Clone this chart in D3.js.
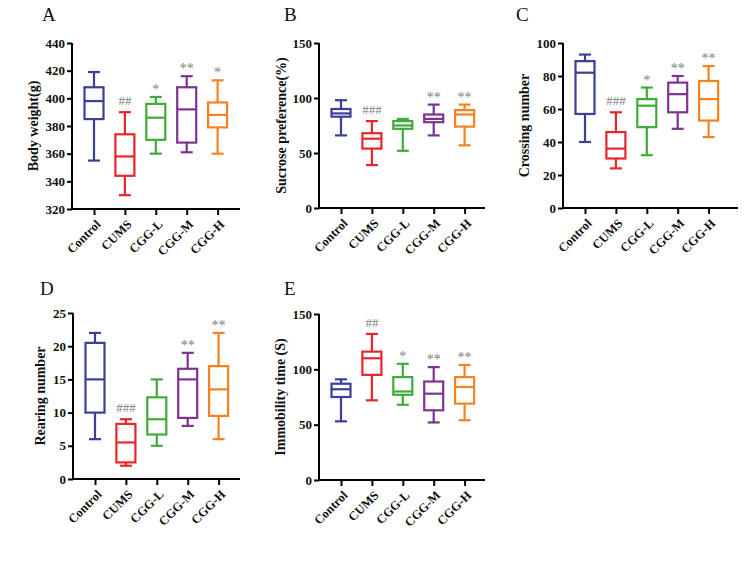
<!DOCTYPE html>
<html>
<head>
<meta charset="utf-8">
<script src="https://cdn.jsdelivr.net/npm/d3@7"></script>
<style>
  body { margin: 0; background: #fff; }
  svg text { font-family: "Liberation Serif", "Times New Roman", serif; }
</style>
</head>
<body>
<svg id="chart" width="752" height="574"></svg>
<script>
// groups and colours
const groups = ["Control", "CUMS", "CGG-L", "CGG-M", "CGG-H"];
const colors = ["#3b3f98", "#e8262b", "#3fab3a", "#7d3391", "#f6821f"];

// box stats per panel: [whiskerLow, q1, median, q3, whiskerHigh]
const bodyWeight = [
  [355, 385, 398, 408, 419],
  [330, 344, 358, 374, 390],
  [360, 370, 386, 396, 401],
  [361, 368, 392, 408, 416],
  [360, 379, 388, 397, 413]
];
const sucrose = [
  [66, 83, 86, 90, 98],
  [39, 54, 63, 68, 79],
  [52, 72, 75, 79, 81],
  [66, 78, 81, 85, 94],
  [57, 74, 85, 89, 94]
];
const crossing = [
  [40, 57, 82, 89, 93],
  [24, 30, 36, 46, 58],
  [32, 49, 62, 66, 73],
  [48, 58, 69, 76, 80],
  [43, 53, 66, 77, 86]
];
const rearing = [
  [6, 10, 15, 20.5, 22],
  [2, 2.5, 5.5, 8.3, 9],
  [5, 6.7, 9, 12.3, 15],
  [8, 9.2, 15, 16.6, 19],
  [6, 9.5, 13.5, 17, 22]
];
const immobility = [
  [53, 75, 82, 87, 91],
  [72, 95, 110, 116, 132],
  [68, 77, 80, 93, 105],
  [52, 63, 78, 89, 102],
  [54, 69, 84, 93, 104]
];

// significance marks
const marksA = ["", "##", "*", "**", "*"];
const marksB = ["", "###", "", "**", "**"];
const marksC = ["", "###", "*", "**", "**"];
const marksD = ["", "###", "", "**", "**"];
const marksE = ["", "##", "*", "**", "**"];

// y ticks
const ticksA = [320, 340, 360, 380, 400, 420, 440];
const ticksB = [0, 50, 100, 150];
const ticksC = [0, 20, 40, 60, 80, 100];
const ticksD = [0, 5, 10, 15, 20, 25];
const ticksE = [0, 50, 100, 150];

const svg = d3.select("#chart");
const serif = "'Liberation Serif', 'Times New Roman', serif";

const panels = [
  { letter: "A", title: "Body weight(g)", stats: bodyWeight, marks: marksA, ticks: ticksA,
    x0: 72, x1: 240, top: 43, bottom: 209, lx: 42, ly: 21, tx: 33 },
  { letter: "B", title: "Sucrose preference(%)", stats: sucrose, marks: marksB, ticks: ticksB,
    x0: 319, x1: 485, top: 43, bottom: 208, lx: 284, ly: 21, tx: 281 },
  { letter: "C", title: "Crossing number", stats: crossing, marks: marksC, ticks: ticksC,
    x0: 563, x1: 738, top: 43, bottom: 208, lx: 516, ly: 21, tx: 524 },
  { letter: "D", title: "Rearing number", stats: rearing, marks: marksD, ticks: ticksD,
    x0: 73, x1: 240, top: 313, bottom: 479, lx: 40, ly: 295, tx: 40 },
  { letter: "E", title: "Immobility time (S)", stats: immobility, marks: marksE, ticks: ticksE,
    x0: 319, x1: 485, top: 314, bottom: 480, lx: 284, ly: 295, tx: 280 }
];

panels.forEach(drawPanel);

function drawPanel(p) {
  const g = svg.append("g");

  const y = d3.scaleLinear()
    .domain(d3.extent(p.ticks))
    .range([p.bottom, p.top]);

  const x = d3.scalePoint()
    .domain(groups)
    .range([p.x0 + 22, p.x0 + 22 + 4 * 30.9]);

  // y axis
  const yAxis = g.append("g")
    .attr("transform", `translate(${p.x0},0)`)
    .call(d3.axisLeft(y).tickValues(p.ticks).tickSize(5).tickSizeOuter(0).tickPadding(2));
  yAxis.select(".domain").attr("stroke-width", 2).attr("d", `M0,${p.top}V${p.bottom + 1}`);
  yAxis.selectAll(".tick line").attr("stroke-width", 2);
  yAxis.selectAll("text")
    .style("font-family", serif)
    .attr("font-size", 13).attr("font-weight", "bold").attr("fill", "#111");

  // x axis
  const xAxis = g.append("g")
    .attr("transform", `translate(0,${p.bottom})`)
    .call(d3.axisBottom(x).tickSize(6).tickSizeOuter(0));
  xAxis.select(".domain").attr("stroke-width", 2).attr("d", `M${p.x0 - 1},0H${p.x1}`);
  xAxis.selectAll(".tick line").attr("stroke-width", 2);
  xAxis.selectAll("text")
    .style("font-family", serif)
    .attr("font-size", 12.5).attr("font-weight", "bold").attr("fill", "#111")
    .attr("text-anchor", "end")
    .attr("x", 0).attr("y", 0).attr("dy", null)
    .attr("transform", "translate(7,16) rotate(-45)");

  // boxes
  const bw = 19, cap = 12;
  const boxes = g.selectAll("g.box")
    .data(p.stats)
    .join("g")
    .attr("class", "box")
    .attr("stroke", (d, i) => colors[i])
    .attr("stroke-width", 2.2)
    .attr("fill", "none");

  boxes.append("line")
    .attr("x1", (d, i) => x(groups[i])).attr("x2", (d, i) => x(groups[i]))
    .attr("y1", d => y(d[0])).attr("y2", d => y(d[1]));
  boxes.append("line")
    .attr("x1", (d, i) => x(groups[i])).attr("x2", (d, i) => x(groups[i]))
    .attr("y1", d => y(d[3])).attr("y2", d => y(d[4]));
  boxes.append("line")
    .attr("x1", (d, i) => x(groups[i]) - cap / 2).attr("x2", (d, i) => x(groups[i]) + cap / 2)
    .attr("y1", d => y(d[0])).attr("y2", d => y(d[0]));
  boxes.append("line")
    .attr("x1", (d, i) => x(groups[i]) - cap / 2).attr("x2", (d, i) => x(groups[i]) + cap / 2)
    .attr("y1", d => y(d[4])).attr("y2", d => y(d[4]));
  boxes.append("rect")
    .attr("x", (d, i) => x(groups[i]) - bw / 2)
    .attr("width", bw)
    .attr("y", d => y(d[3]))
    .attr("height", d => y(d[1]) - y(d[3]));
  boxes.append("line")
    .attr("x1", (d, i) => x(groups[i]) - bw / 2).attr("x2", (d, i) => x(groups[i]) + bw / 2)
    .attr("y1", d => y(d[2])).attr("y2", d => y(d[2]));

  // significance marks
  g.selectAll("text.mark")
    .data(p.marks)
    .join("text")
    .attr("class", "mark")
    .attr("x", (d, i) => x(groups[i]))
    .attr("y", (d, i) => y(p.stats[i][4]) - (d.startsWith("#") ? 7 : 3))
    .attr("text-anchor", "middle")
    .attr("font-size", d => d.startsWith("#") ? 13 : 14)
    .attr("fill", "#808080")
    .text(d => d);

  // panel letter
  g.append("text")
    .attr("x", p.lx).attr("y", p.ly)
    .attr("font-size", 19)
    .attr("fill", "#111")
    .text(p.letter);

  // y title
  g.append("text")
    .attr("transform", `translate(${p.tx},${(p.top + p.bottom) / 2}) rotate(-90)`)
    .attr("text-anchor", "middle")
    .attr("dy", "0.35em")
    .attr("font-size", 14)
    .attr("font-weight", "bold")
    .attr("fill", "#111")
    .text(p.title);
}
</script>
</body>
</html>
